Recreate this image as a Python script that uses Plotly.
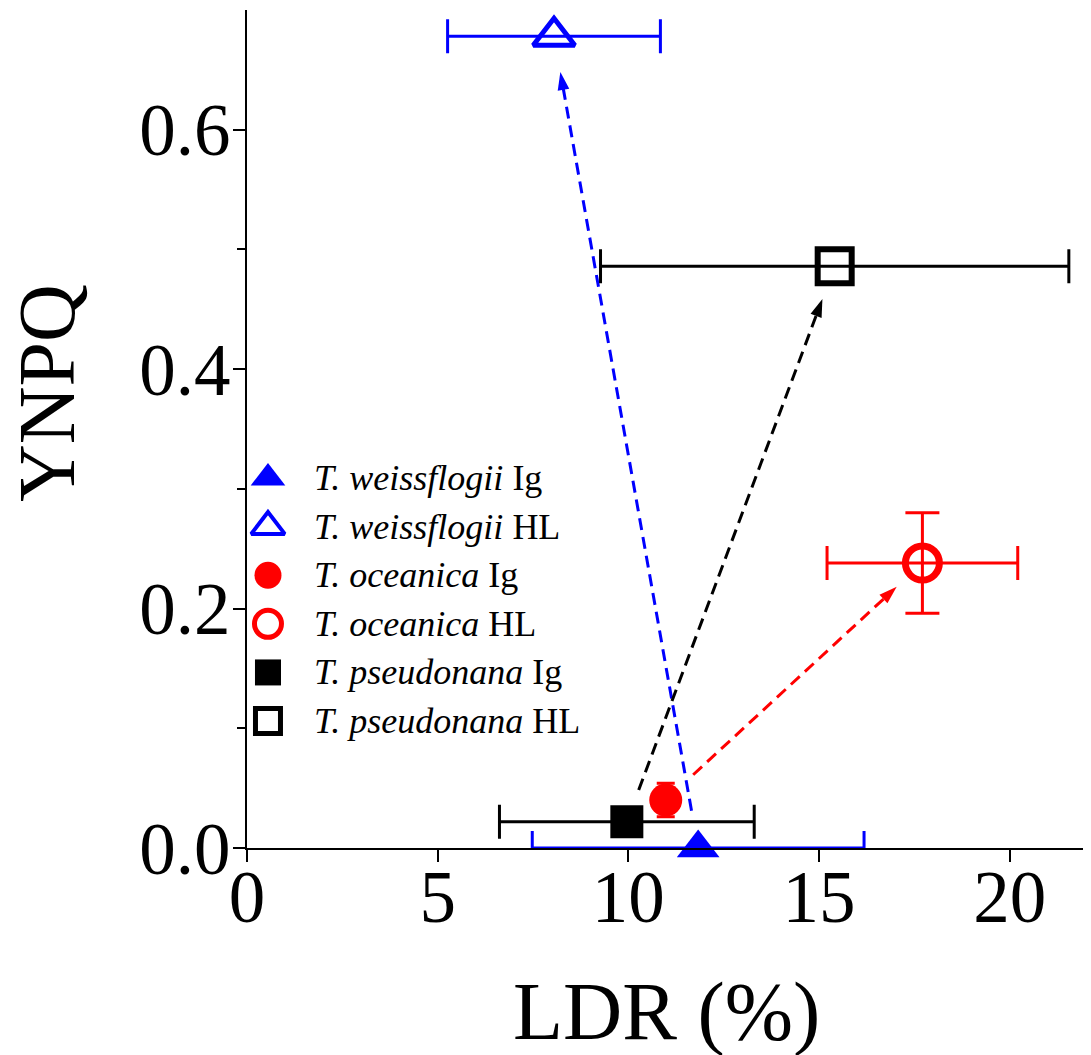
import plotly.graph_objects as go

# ---------------- data ----------------
species = ["T. weissflogii", "T. weissflogii", "T. oceanica", "T. oceanica", "T. pseudonana", "T. pseudonana"]
condition = ["Ig", "HL", "Ig", "HL", "Ig", "HL"]
ldr = [11.83, 8.05, 10.98, 17.71, 9.96, 15.41]
ldr_err = [4.35, 2.79, 0.0, 2.50, 3.34, 6.14]
ynpq = [0.000, 0.678, 0.040, 0.238, 0.022, 0.486]
ynpq_err = [0.0, 0.0, 0.014, 0.042, 0.0, 0.0]

x_ticks = [0, 5, 10, 15, 20]
y_ticks = [0.0, 0.2, 0.4, 0.6]
y_minor = [0.1, 0.3, 0.5]

# ---------------- styles ----------------
colors = ["#0000FF", "#0000FF", "#FF0000", "#FF0000", "#000000", "#000000"]
symbols = ["triangle-up", "triangle-up-open", "circle", "circle-open", "square", "square-open"]
msizes = [37, 36, 33, 34, 33, 34]
mlw = [0, 5, 0, 7, 0, 6]
leg_sizes = [30, 29, 27, 27, 26, 25]
leg_lw = [0, 4, 0, 5, 0, 5]
# arrow (Ig -> HL) start / end fraction along segment for each species pair
arrow_pairs = [(0, 1, 0.046, 0.956), (4, 5, 0.057, 0.941), (2, 3, 0.107, 0.900)]

FONT = "Liberation Serif"

# figure is placed at an 8px page offset by the html body margin
W, H = 1083, 1047
ML, MR, MT, MB = 239, 5, 2, 207
PW, PH = W - ML - MR, H - MT - MB

fig = go.Figure()

# dashed arrows
for i0, i1, f0, f1 in arrow_pairs:
    xa = [ldr[i0] + f0 * (ldr[i1] - ldr[i0]), ldr[i0] + f1 * (ldr[i1] - ldr[i0])]
    ya = [ynpq[i0] + f0 * (ynpq[i1] - ynpq[i0]), ynpq[i0] + f1 * (ynpq[i1] - ynpq[i0])]
    fig.add_trace(go.Scatter(
        x=xa, y=ya, mode="lines+markers",
        line=dict(color=colors[i0], width=3, dash="12px,7px"),
        marker=dict(symbol=["circle", "arrow"], size=[0, 19], angleref="previous",
                    color=colors[i0], opacity=1, line=dict(width=0)),
        showlegend=False, hoverinfo="skip", cliponaxis=False,
    ))

# data points
for i in range(len(ldr)):
    fig.add_trace(go.Scatter(
        x=[ldr[i]], y=[ynpq[i]], mode="markers",
        name=f"{species[i]} {condition[i]}",
        marker=dict(symbol=symbols[i], size=msizes[i], color=colors[i], opacity=1,
                    line=dict(color=colors[i], width=mlw[i])),
        error_x=dict(type="data", array=[ldr_err[i]], visible=ldr_err[i] > 0,
                     color=colors[i], thickness=3, width=17),
        error_y=dict(type="data", array=[ynpq_err[i]], visible=ynpq_err[i] > 0,
                     color=colors[i], thickness=3, width=17 if ynpq_err[i] > 0.02 else 9),
        cliponaxis=False, showlegend=False,
    ))

# manual legend (overlay axes in [0,1] units)
leg_x = 0.025
leg_top = 0.4415
leg_step = 0.058
text_x = 0.078
for i in range(len(ldr)):
    yy = leg_top - i * leg_step
    fig.add_trace(go.Scatter(
        x=[leg_x], y=[yy], xaxis="x2", yaxis="y2", mode="markers",
        marker=dict(symbol=symbols[i], size=leg_sizes[i], color=colors[i], opacity=1,
                    line=dict(color=colors[i], width=leg_lw[i])),
        showlegend=False, hoverinfo="skip", cliponaxis=False,
    ))
    fig.add_annotation(
        x=text_x, y=yy, xref="x2", yref="y2", xanchor="left", yanchor="middle",
        text=f"<i>{species[i]}</i> {condition[i]}", showarrow=False,
        font=dict(family=FONT, size=36, color="black"),
    )

fig.update_layout(
    width=W, height=H, autosize=False,
    margin=dict(l=ML, r=MR, t=MT, b=MB, pad=0),
    plot_bgcolor="white", paper_bgcolor="white",
    showlegend=False,
    font=dict(family=FONT, color="black"),
    xaxis=dict(
        range=[0, 22], tickmode="array", tickvals=x_ticks, ticktext=[str(v) for v in x_ticks],
        showline=True, linecolor="black", linewidth=2,
        ticks="outside", ticklen=12, tickwidth=2, tickcolor="black",
        tickfont=dict(family=FONT, size=73, color="black"),
        ticklabelstandoff=-28,
        showgrid=False, zeroline=False,
    ),
    yaxis=dict(
        range=[0, 0.7], tickmode="array", tickvals=y_ticks, ticktext=[f"{v:.1f}" for v in y_ticks],
        showline=True, linecolor="black", linewidth=2,
        ticks="outside", ticklen=12, tickwidth=2, tickcolor="black",
        tickfont=dict(family=FONT, size=73, color="black"),
        ticklabelstandoff=-12,
        minor=dict(tickmode="array", tickvals=y_minor, ticks="outside", ticklen=8,
                   tickwidth=2, tickcolor="black", showgrid=False),
        showgrid=False, zeroline=False,
    ),
    xaxis2=dict(overlaying="x", range=[0, 1], visible=False, fixedrange=True),
    yaxis2=dict(overlaying="y", range=[0, 1], visible=False, fixedrange=True),
)

# axis titles (positions in figure pixels converted to paper units)
fig.add_annotation(x=(658 - ML) / PW, y=(MT + PH - 1003) / PH, xref="paper", yref="paper",
                   text="LDR (%)", showarrow=False, xanchor="center", yanchor="middle",
                   font=dict(family=FONT, size=82, color="black"))
fig.add_annotation(x=(39 - ML) / PW, y=(MT + PH - 385) / PH, xref="paper", yref="paper",
                   text="YNPQ", showarrow=False, textangle=-90, xanchor="center", yanchor="middle",
                   font=dict(family=FONT, size=80, color="black"))

fig.write_html("out.html")
